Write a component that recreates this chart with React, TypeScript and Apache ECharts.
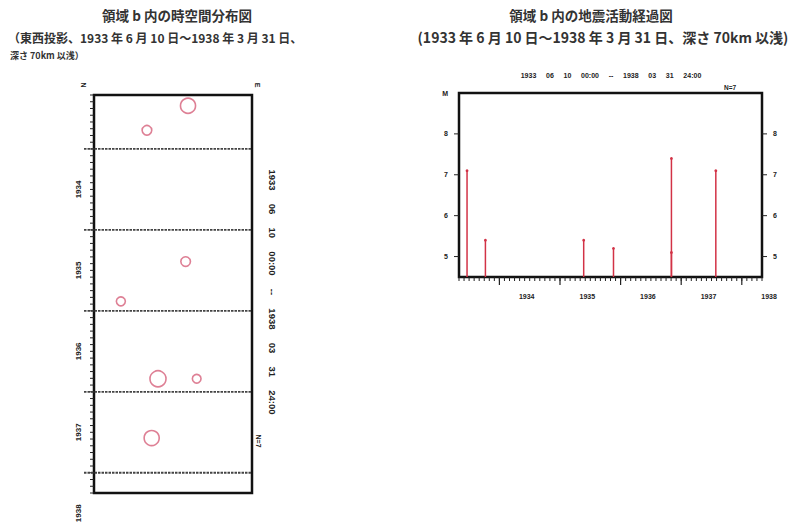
import { useEffect, useRef } from 'react';
import * as echarts from 'echarts';

// ---- texts ----
const titleLeft = ['領域 b 内の時空間分布図', '（東西投影、1933 年 6 月 10 日～1938 年 3 月 31 日、', '深さ 70km 以浅）'];
const titleRight = ['領域 b 内の地震活動経過図', '(1933 年 6 月 10 日～1938 年 3 月 31 日、深さ 70km 以浅)'];
const periodText = '1933 06 10 00:00 -- 1938 03 31 24:00';
const countText = 'N=7';

// ---- data ----
const eventDates = ['1933-06-19', '1933-10-08', '1935-05-22', '1935-11-19', '1936-11-03', '1936-11-03', '1937-07-27'];
const magnitudes = [7.1, 5.4, 5.4, 5.2, 7.4, 5.1, 7.1];
const longitudes = [142.19, 141.67, 142.16, 141.34, 141.81, 142.3, 141.73];
const yearLabels = [1934, 1935, 1936, 1937, 1938];
const magLabels = [5, 6, 7, 8, 9];
const magTicksRight = [5, 6, 7, 8];

// axis ranges (months counted from Jan 1933)
const BASE_YEAR = 1933;
const LEFT_T = [4, 63];
const RIGHT_T = [4, 64];
const LON = [141, 143];
const MAG = [4.5, 9];

const toMonths = (d: string) => {
  const [y, m, dd] = d.split('-').map(Number);
  return (y - BASE_YEAR) * 12 + (m - 1) + (dd - 1) / 30.4;
};

const FONT = '"Liberation Sans", Arial, sans-serif';
const JP = '"Noto Sans CJK JP", "Noto Sans", sans-serif';
const PINK = '#d6607a';
const RED = '#d23246';
const INK = '#222';

export default function App() {
  const ref = useRef<HTMLDivElement>(null);
  useEffect(() => {
    document.body.style.margin = '0';
    const chart = echarts.init(ref.current!, null, { renderer: 'svg' });
    const months = eventDates.map(toMonths);
    const spaced = periodText.split(' ').join('     ');
    const spacedWide = periodText.split(' ').join('     ');

    const smallLabel = { fontSize: 7, fontWeight: 'bold', color: INK, fontFamily: FONT };
    const tickStyle = { stroke: INK, lineWidth: 1 };

    const option: any = {
      animation: false,
      backgroundColor: '#fff',
      grid: [
        { left: 94, top: 95, width: 158, height: 398, show: true, borderColor: '#111', borderWidth: 2.5, backgroundColor: 'transparent' },
        { left: 459, top: 93, width: 303, height: 184, show: true, borderColor: '#111', borderWidth: 2.5, backgroundColor: 'transparent' },
      ],
      xAxis: [
        { gridIndex: 0, type: 'value', min: LON[0], max: LON[1], show: false },
        {
          gridIndex: 1, type: 'value', min: RIGHT_T[0], max: RIGHT_T[1],
          axisLine: { show: false }, axisTick: { show: false },
          axisLabel: { show: false }, splitLine: { show: false },
        },
      ],
      yAxis: [
        {
          gridIndex: 0, type: 'value', inverse: true, min: LEFT_T[0], max: LEFT_T[1],
          axisLine: { show: false }, axisTick: { show: false },
          axisLabel: { show: false }, splitLine: { show: false },
        },
        {
          gridIndex: 1, type: 'value', min: MAG[0], max: MAG[1], position: 'left',
          axisLine: { show: false }, axisTick: { show: false },
          axisLabel: { ...smallLabel, customValues: magLabels, margin: 11, formatter: (v: number) => (v === 9 ? 'M' : String(v)) },
          splitLine: { show: false },
        },
        {
          gridIndex: 1, type: 'value', min: MAG[0], max: MAG[1], position: 'right',
          axisLine: { show: false }, axisTick: { show: false },
          axisLabel: { ...smallLabel, customValues: magTicksRight, margin: 11 },
          splitLine: { show: false },
        },
      ],
      series: [
        // left chart: monthly ticks on the time axis
        {
          type: 'custom', xAxisIndex: 0, yAxisIndex: 0, clip: false, silent: true,
          data: [[LEFT_T[0], LEFT_T[1]]],
          renderItem: (params: any, api: any) => {
            const cs = params.coordSys;
            const children: any[] = [];
            for (let m = Math.ceil(api.value(0)); m <= api.value(1); m++) {
              const p = api.coord([LON[0], m]);
              children.push({ type: 'line', shape: { x1: cs.x - 4, y1: p[1], x2: cs.x, y2: p[1] }, style: tickStyle });
            }
            return { type: 'group', children };
          },
        },
        // left chart: year boundaries
        {
          type: 'custom', xAxisIndex: 0, yAxisIndex: 0, clip: false, silent: true,
          data: yearLabels.map((y) => [(y - BASE_YEAR) * 12]),
          renderItem: (params: any, api: any) => {
            const cs = params.coordSys;
            const p = api.coord([LON[0], api.value(0)]);
            return {
              type: 'line',
              shape: { x1: cs.x - 10, y1: p[1], x2: cs.x + cs.width, y2: p[1] },
              style: { stroke: '#444', lineWidth: 1.8, lineDash: [2.5, 1] },
            };
          },
        },
        // left chart: year labels
        {
          type: 'custom', xAxisIndex: 0, yAxisIndex: 0, clip: false, silent: true,
          data: yearLabels.map((y) => [(y - BASE_YEAR) * 12 + 6, y]),
          renderItem: (params: any, api: any) => {
            const cs = params.coordSys;
            const p = api.coord([LON[0], api.value(0)]);
            return {
              type: 'text', x: cs.x - 16, y: p[1], rotation: Math.PI / 2,
              style: { text: String(api.value(1)), fontSize: 8, fontWeight: 'bold', fill: INK, fontFamily: FONT, align: 'center', verticalAlign: 'middle' },
            };
          },
        },
        // left chart: events
        {
          type: 'scatter', xAxisIndex: 0, yAxisIndex: 0,
          data: longitudes.map((lon, i) => [lon, months[i], magnitudes[i]]),
          symbol: 'circle',
          symbolSize: (d: number[]) => 9 + (d[2] - 5.2) * 3.2,
          itemStyle: { color: 'rgba(0,0,0,0)', borderColor: PINK, borderWidth: 1.6 },
        },
        // right chart: monthly ticks on x + magnitude ticks on both sides
        {
          type: 'custom', xAxisIndex: 1, yAxisIndex: 1, clip: false, silent: true,
          data: [[RIGHT_T[0], RIGHT_T[1]]],
          renderItem: (params: any, api: any) => {
            const cs = params.coordSys;
            const children: any[] = [];
            for (let m = Math.ceil(api.value(0)); m <= api.value(1); m++) {
              const p = api.coord([m, MAG[0]]);
              children.push({ type: 'line', shape: { x1: p[0], y1: p[1], x2: p[0], y2: p[1] + 4 }, style: tickStyle });
            }
            magTicksRight.forEach((v) => {
              const p = api.coord([RIGHT_T[0], v]);
              children.push({ type: 'line', shape: { x1: cs.x - 5, y1: p[1], x2: cs.x, y2: p[1] }, style: tickStyle });
              children.push({ type: 'line', shape: { x1: cs.x + cs.width, y1: p[1], x2: cs.x + cs.width + 5, y2: p[1] }, style: tickStyle });
            });
            return { type: 'group', children };
          },
        },
        // right chart: stems
        {
          type: 'custom', xAxisIndex: 1, yAxisIndex: 1, clip: false, silent: true,
          data: months.map((t, i) => [t, magnitudes[i]]),
          renderItem: (params: any, api: any) => {
            const top = api.coord([api.value(0), api.value(1)]);
            const base = api.coord([api.value(0), MAG[0]]);
            return {
              type: 'group',
              children: [
                { type: 'line', shape: { x1: top[0], y1: top[1], x2: base[0], y2: base[1] }, style: { stroke: RED, lineWidth: 1.5 } },
                { type: 'circle', shape: { cx: top[0], cy: top[1], r: 1.4 }, style: { fill: RED } },
              ],
            };
          },
        },
        // right chart: year ticks + labels
        {
          type: 'custom', xAxisIndex: 1, yAxisIndex: 1, clip: false, silent: true,
          data: yearLabels.map((y) => [(y - BASE_YEAR) * 12, y]),
          renderItem: (params: any, api: any) => {
            const p = api.coord([api.value(0), MAG[0]]);
            const mid = api.coord([api.value(0) + 6, MAG[0]]);
            return {
              type: 'group',
              children: [
                { type: 'line', shape: { x1: p[0], y1: p[1], x2: p[0], y2: p[1] + 8 }, style: { stroke: INK, lineWidth: 1.2 } },
                { type: 'text', x: mid[0] - 3, y: p[1] + 19, style: { text: String(api.value(1)), fontSize: 7, fontWeight: 'bold', fill: INK, fontFamily: FONT, align: 'center', verticalAlign: 'middle' } },
              ],
            };
          },
        },
      ],
      graphic: [
        { type: 'text', x: 177, y: 15, style: { text: titleLeft[0], fontSize: 13.5, fontWeight: 'bold', fill: '#333', fontFamily: JP, align: 'center', verticalAlign: 'middle' } },
        { type: 'text', x: 8, y: 37, style: { text: titleLeft[1], fontSize: 12, fontWeight: 'bold', fill: '#333', fontFamily: JP, align: 'left', verticalAlign: 'middle' } },
        { type: 'text', x: 10, y: 55, style: { text: titleLeft[2], fontSize: 9, fontWeight: 'bold', fill: '#333', fontFamily: JP, align: 'left', verticalAlign: 'middle' } },
        { type: 'text', x: 591, y: 15, style: { text: titleRight[0], fontSize: 13.5, fontWeight: 'bold', fill: '#333', fontFamily: JP, align: 'center', verticalAlign: 'middle' } },
        { type: 'text', x: 603, y: 37, style: { text: titleRight[1], fontSize: 14, fontWeight: 'bold', fill: '#333', fontFamily: JP, align: 'center', verticalAlign: 'middle' } },
        { type: 'text', x: 83, y: 85, rotation: -Math.PI / 2, style: { text: 'N', fontSize: 7, fontWeight: 'bold', fill: INK, fontFamily: FONT, align: 'center', verticalAlign: 'middle' } },
        { type: 'text', x: 257, y: 85, rotation: -Math.PI / 2, style: { text: 'E', fontSize: 7, fontWeight: 'bold', fill: INK, fontFamily: FONT, align: 'center', verticalAlign: 'middle' } },
        { type: 'text', x: 272, y: 292, rotation: -Math.PI / 2, style: { text: spacedWide, fontSize: 9.5, fontWeight: 'bold', fill: INK, fontFamily: FONT, align: 'center', verticalAlign: 'middle' } },
        { type: 'text', x: 258, y: 441, rotation: -Math.PI / 2, style: { text: countText, fontSize: 7, fontWeight: 'bold', fill: INK, fontFamily: FONT, align: 'center', verticalAlign: 'middle' } },
        { type: 'text', x: 611, y: 75, style: { text: spaced, fontSize: 7, fontWeight: 'bold', fill: INK, fontFamily: FONT, align: 'center', verticalAlign: 'middle' } },
        { type: 'text', x: 730, y: 87, style: { text: countText, fontSize: 6.5, fontWeight: 'bold', fill: INK, fontFamily: FONT, align: 'center', verticalAlign: 'middle' } },
      ],
    };
    chart.setOption(option);
    return () => chart.dispose();
  }, []);
  return <div ref={ref} style={{ width: 801, height: 531 }} />;
}
